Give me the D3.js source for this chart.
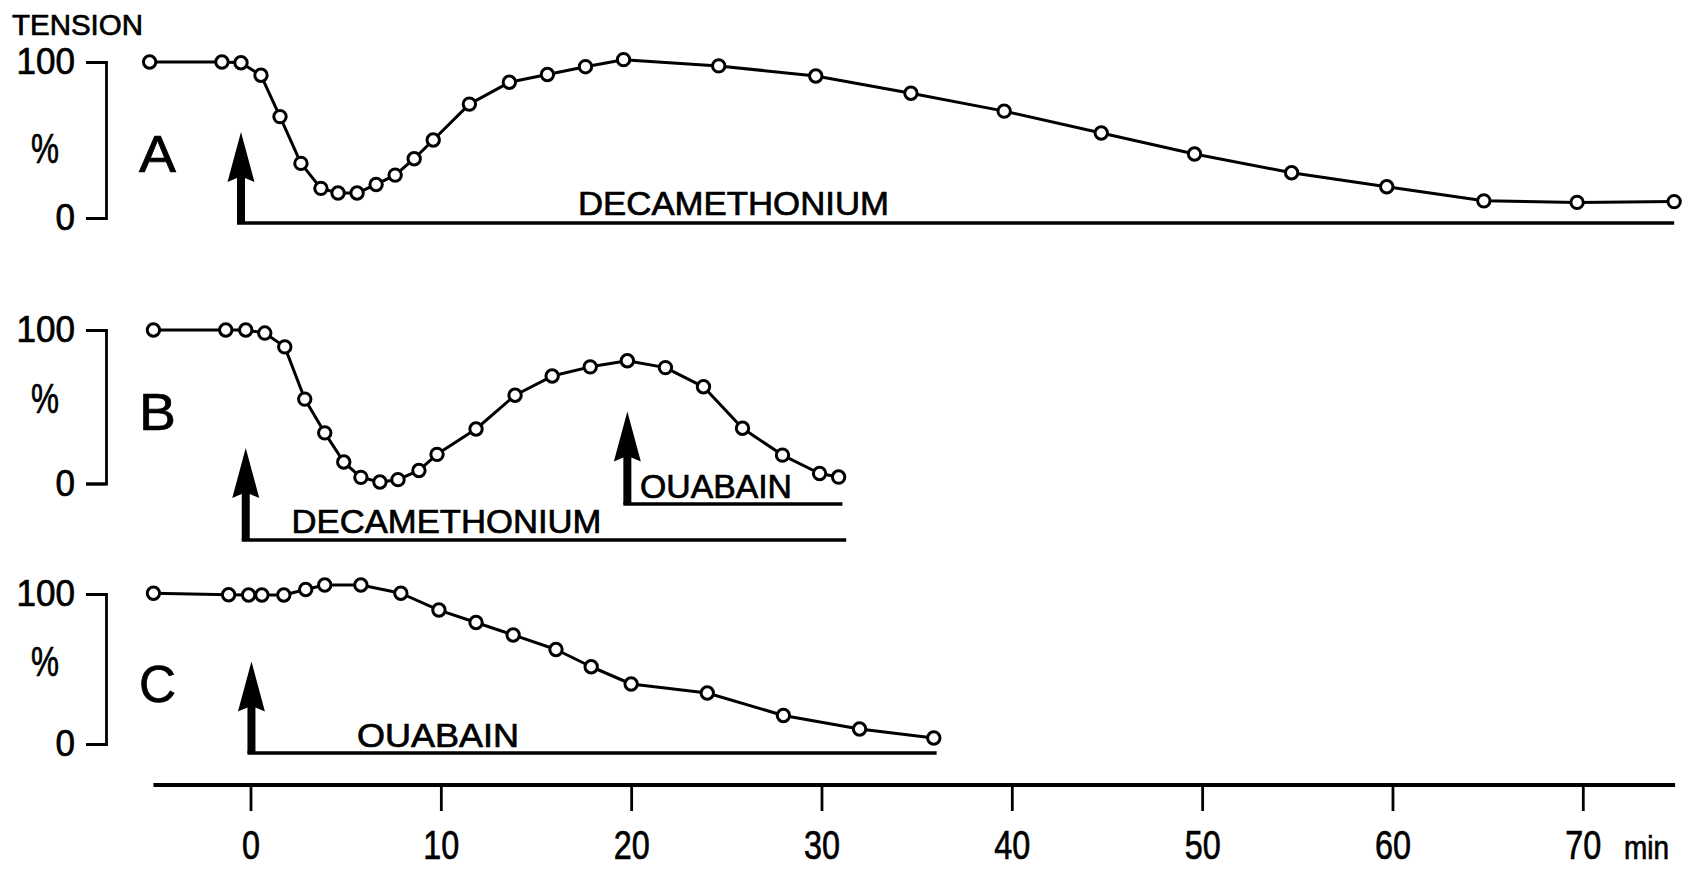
<!DOCTYPE html>
<html><head><meta charset="utf-8">
<script src="https://cdn.jsdelivr.net/npm/d3@7"></script>
<style>body{margin:0;background:#fff}</style>
</head><body>
<svg id="chart" width="1693" height="870"></svg>
<script>
// ---- data (time in min, tension in %) ----
const tA = [-5.3, -1.5, -0.5, 0.55, 1.55, 2.65, 3.7, 4.6, 5.6, 6.6, 7.6, 8.6, 9.6, 11.5, 13.6, 15.6, 17.6, 19.6, 24.6, 29.7, 34.7, 39.6, 44.7, 49.6, 54.7, 59.7, 64.8, 69.7, 74.8];
const vA = [100, 100, 99.5, 91.5, 65, 35, 19, 16, 16, 21.5, 27.5, 38, 50, 73, 87, 92, 97, 101.5, 97.5, 91, 80, 68.5, 54.5, 41, 29, 20, 11, 10, 10.5];
const tB = [-5.1, -1.3, -0.25, 0.75, 1.8, 2.85, 3.9, 4.9, 5.8, 6.8, 7.75, 8.85, 9.8, 11.85, 13.9, 15.85, 17.85, 19.8, 21.8, 23.8, 25.85, 27.95, 29.9, 30.9];
const vB = [100, 100, 100, 98, 89, 55, 33, 14, 4, 1, 2.5, 8.5, 19, 35.5, 57.5, 70, 76, 80, 75.5, 63, 36, 18.5, 6.5, 4.2];
const tC = [-5.1, -1.15, -0.1, 0.6, 1.75, 2.9, 3.9, 5.8, 7.9, 9.9, 11.85, 13.8, 16.05, 17.9, 20.0, 24.0, 28.0, 32.0, 35.9];
const vC = [100.5, 99.5, 99.3, 99.3, 99.3, 103, 106, 106, 100.5, 89.3, 81, 72.7, 63, 51.5, 40, 34, 19, 10, 4];
const drugsA = [{name: "DECAMETHONIUM", start: -0.5, end: 74.8}];
const drugsB = [{name: "DECAMETHONIUM", start: -0.25, end: 31.3}, {name: "OUABAIN", start: 19.8, end: 31.1}];
const drugsC = [{name: "OUABAIN", start: 0.05, end: 36.05}];
const xTicks = [0, 10, 20, 30, 40, 50, 60, 70];
const yTicks = [0, 100];
const xUnit = "min";
const yTitle = "TENSION";
const yUnit = "%";

// ---- layout ----
const svg = d3.select("#chart");
const x = d3.scaleLinear().domain([0, 70]).range([250.5, 1582.8]);
const axisX = 106;
const sans = "'Liberation Sans', Arial, sans-serif";
const inkW = 0.7; // slight stroke to thicken glyphs like the printed original

const panels = [
  {label: "A", t: tA, v: vA, y0: 218, y100: 62, labelBase: 172, pctBase: 163, drugs: drugsA,
   dl: [{tip: 132, line: 223, tx: 578, tb: 215, tl: 311}]},
  {label: "B", t: tB, v: vB, y0: 483.5, y100: 330, labelBase: 430, pctBase: 413, drugs: drugsB,
   dl: [{tip: 448, line: 540, tx: 291.5, tb: 533, tl: 310}, {tip: 411.5, line: 504, tx: 640, tb: 498, tl: 152}]},
  {label: "C", t: tC, v: vC, y0: 744, y100: 594, labelBase: 702, pctBase: 676, drugs: drugsC,
   dl: [{tip: 661.5, line: 753, tx: 357, tb: 746.5, tl: 162}]}
];

function ink(sel) { return sel.attr("fill", "#000").attr("stroke", "#000").attr("stroke-width", inkW); }

ink(svg.append("text").attr("x", 12).attr("y", 35).attr("font-family", sans).attr("font-size", 29)
  .attr("textLength", 131).attr("lengthAdjust", "spacingAndGlyphs").text(yTitle));

panels.forEach(p => {
  const y = d3.scaleLinear().domain([0, 100]).range([p.y0, p.y100]);
  const g = svg.append("g");
  // bracket axis
  const ax = g.append("g").attr("transform", `translate(${axisX},0)`)
    .call(d3.axisLeft(y).tickValues(yTicks).tickSize(20).tickPadding(11).tickFormat(d3.format("d")));
  ax.selectAll("path,line").attr("stroke", "#000").attr("stroke-width", 2.8);
  ink(ax.selectAll("text").attr("font-family", sans).attr("font-size", 36))
    .attr("textLength", d => String(d).length * 19.5).attr("lengthAdjust", "spacingAndGlyphs");
  ink(g.append("text").attr("x", 31).attr("y", p.pctBase).attr("font-family", sans).attr("font-size", 42)
    .attr("textLength", 28).attr("lengthAdjust", "spacingAndGlyphs").text(yUnit));
  ink(g.append("text").attr("x", 139).attr("y", p.labelBase).attr("font-family", sans).attr("font-size", 52)
    .attr("textLength", 37).attr("lengthAdjust", "spacingAndGlyphs").text(p.label));

  // drug arrows and lines
  p.drugs.forEach((d, i) => {
    const L = p.dl[i];
    const xs = x(d.start);
    const headLen = 50, headW = 27, shaftW = 8;
    g.append("path")
      .attr("d", `M${xs},${L.tip} L${xs + headW / 2},${L.tip + headLen} L${xs + shaftW / 2},${L.tip + headLen - 4} L${xs + shaftW / 2},${L.line} L${xs - shaftW / 2},${L.line} L${xs - shaftW / 2},${L.tip + headLen - 4} L${xs - headW / 2},${L.tip + headLen} Z`)
      .attr("fill", "#000");
    g.append("line").attr("x1", xs - shaftW / 2).attr("x2", x(d.end)).attr("y1", L.line).attr("y2", L.line)
      .attr("stroke", "#000").attr("stroke-width", 3.6);
    ink(g.append("text").attr("x", L.tx).attr("y", L.tb).attr("font-family", sans).attr("font-size", 33)
      .attr("textLength", L.tl).attr("lengthAdjust", "spacingAndGlyphs").text(d.name));
  });

  // data line + markers
  const pts = p.t.map((t, i) => [t, p.v[i]]);
  g.append("path").datum(pts)
    .attr("d", d3.line().x(d => x(d[0])).y(d => y(d[1])))
    .attr("fill", "none").attr("stroke", "#000").attr("stroke-width", 3).attr("stroke-linejoin", "round");
  g.selectAll("circle").data(pts).join("circle")
    .attr("cx", d => x(d[0])).attr("cy", d => y(d[1])).attr("r", 6.2)
    .attr("fill", "#fff").attr("stroke", "#000").attr("stroke-width", 3);
});

// x axis
const xa = svg.append("g").attr("transform", "translate(0,785)")
  .call(d3.axisBottom(x).tickValues(xTicks).tickSize(26).tickPadding(19).tickSizeOuter(0).tickFormat(d3.format("d")));
xa.select(".domain").remove();
xa.selectAll("line").attr("stroke", "#000").attr("stroke-width", 2.8);
ink(xa.selectAll("text").attr("font-family", sans).attr("font-size", 41))
  .attr("textLength", d => String(d).length * 18).attr("lengthAdjust", "spacingAndGlyphs");
svg.append("line").attr("x1", x(-5.1)).attr("x2", x(74.85)).attr("y1", 785).attr("y2", 785)
  .attr("stroke", "#000").attr("stroke-width", 3.8);
ink(svg.append("text").attr("x", 1624).attr("y", 859).attr("font-family", sans).attr("font-size", 34)
  .attr("textLength", 45).attr("lengthAdjust", "spacingAndGlyphs").text(xUnit));
</script>
</body></html>
